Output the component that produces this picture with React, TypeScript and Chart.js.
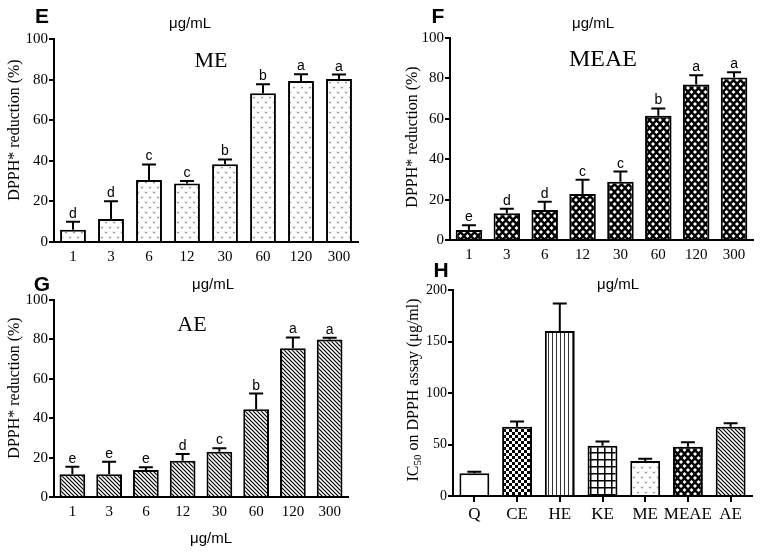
import React, { useEffect, useRef } from 'react';
import { Chart, registerables } from 'chart.js';
Chart.register(...registerables);

const SERIF = "'Liberation Serif', 'Times New Roman', serif";
const SANS = "'Liberation Sans', Arial, sans-serif";

// ---- data ----
const concLabels = ['1', '3', '6', '12', '30', '60', '120', '300'];

const meValues = [6, 11.3, 30.5, 28.8, 38.3, 73.3, 79.3, 80.3];
const meErrors = [4, 8.8, 7.7, 1.3, 2.4, 4.4, 3.3, 2.2];
const meLetters = ['d', 'd', 'c', 'c', 'b', 'b', 'a', 'a'];

const meaeValues = [5, 13.2, 14.9, 22.8, 28.8, 61.5, 77, 80.5];
const meaeErrors = [2.3, 2.3, 4, 7, 5.1, 3.6, 4.5, 2.5];
const meaeLetters = ['e', 'd', 'd', 'c', 'c', 'b', 'a', 'a'];

const aeValues = [11.6, 11.6, 13.7, 18.4, 23, 44.5, 75.5, 80];
const aeErrors = [3.8, 6.3, 1.4, 3.4, 1.7, 8, 5.5, 0.8];
const aeLetters = ['e', 'e', 'e', 'd', 'c', 'b', 'a', 'a'];

const ic50Labels = ['Q', 'CE', 'HE', 'KE', 'ME', 'MEAE', 'AE'];
const ic50Values = [22, 67.3, 160.2, 48.9, 34, 47.9, 67.3];
const ic50Errors = [1.6, 5, 26.8, 3.9, 2.2, 4.2, 3.3];
const ic50Fills = ['white', 'checker', 'vertical', 'grid', 'dots', 'cross', 'diag'];

// ---- patterns ----
function makePattern(kind: string): any {
  const c = document.createElement('canvas');
  const g = c.getContext('2d')!;
  const tile = (w: number, h: number) => { c.width = w; c.height = h; g.fillStyle = '#fff'; g.fillRect(0, 0, w, h); };
  if (kind === 'white') return '#ffffff';
  if (kind === 'dots') {
    tile(8, 10);
    g.strokeStyle = '#777'; g.lineWidth = 0.8;
    const v = (x: number, y: number) => { g.beginPath(); g.moveTo(x - 1.1, y - 0.8); g.lineTo(x, y + 0.8); g.lineTo(x + 1.1, y - 0.8); g.stroke(); };
    v(2, 2.5); v(6, 7.5);
  } else if (kind === 'cross') {
    tile(7, 8);
    g.fillStyle = '#000'; g.fillRect(0, 0, 7, 8);
    g.fillStyle = '#fff';
    const d = (x: number, y: number) => { g.beginPath(); g.moveTo(x, y - 2); g.lineTo(x + 2, y); g.lineTo(x, y + 2); g.lineTo(x - 2, y); g.closePath(); g.fill(); };
    d(3.5, 4); d(0, 0); d(7, 0); d(0, 8); d(7, 8);
  } else if (kind === 'diag') {
    tile(4, 4);
    g.strokeStyle = '#000'; g.lineWidth = 1.2;
    g.beginPath(); g.moveTo(-1, -1); g.lineTo(5, 5); g.moveTo(3, -1); g.lineTo(5, 1); g.moveTo(-1, 3); g.lineTo(1, 5); g.stroke();
  } else if (kind === 'checker') {
    tile(6, 6);
    g.fillStyle = '#000'; g.fillRect(0, 0, 3, 3); g.fillRect(3, 3, 3, 3);
  } else if (kind === 'vertical') {
    tile(4, 2);
    g.fillStyle = '#333'; g.fillRect(0, 0, 1, 2);
  } else if (kind === 'grid') {
    tile(7, 7);
    g.fillStyle = '#000'; g.fillRect(0, 0, 7, 1.5); g.fillRect(0, 0, 1.5, 7);
  }
  return g.createPattern(c, 'repeat');
}

// ---- error bar + letter plugin ----
const errorPlugin = {
  id: 'errBars',
  afterDatasetsDraw(chart: any, _args: any, opts: any) {
    const ctx = chart.ctx;
    const y = chart.scales.y;
    const meta = chart.getDatasetMeta(0);
    const values = chart.data.datasets[0].data as number[];
    const errors: number[] = opts.errors || [];
    const letters: string[] | undefined = opts.letters;
    ctx.save();
    ctx.strokeStyle = '#000';
    ctx.lineWidth = 2;
    meta.data.forEach((bar: any, i: number) => {
      const yv = y.getPixelForValue(values[i]);
      const ye = y.getPixelForValue(values[i] + errors[i]);
      ctx.beginPath();
      ctx.moveTo(bar.x, yv);
      ctx.lineTo(bar.x, ye);
      ctx.moveTo(bar.x - 7, ye);
      ctx.lineTo(bar.x + 7, ye);
      ctx.stroke();
      if (letters) {
        ctx.fillStyle = '#000';
        ctx.font = `14px ${SANS}`;
        ctx.textAlign = 'center';
        ctx.textBaseline = 'alphabetic';
        ctx.fillText(letters[i], bar.x, ye - 4);
      }
    });
    ctx.restore();
  },
};

type PanelProps = {
  left: number; top: number; w: number; h: number;
  area: { l: number; r: number; t: number; b: number };
  labels: string[]; values: number[]; errors: number[]; letters?: string[];
  fills: string[];
  yMax: number; yStep: number;
  xFont: number; yFont: number; xTicks: boolean; xPad: number; barPct: number;
};

function Panel(p: PanelProps) {
  const ref = useRef<HTMLCanvasElement>(null);
  useEffect(() => {
    const bg = p.fills.map(makePattern);
    const chart = new Chart(ref.current!, {
      type: 'bar',
      data: {
        labels: p.labels,
        datasets: [{
          data: p.values, backgroundColor: bg, borderColor: '#000', borderWidth: 2,
          barPercentage: p.barPct, categoryPercentage: 1, borderSkipped: 'bottom',
        } as any],
      },
      options: {
        responsive: false,
        animation: false,
        layout: { padding: { left: 0, top: p.area.t, right: p.w - p.area.r, bottom: 0 } },
        plugins: {
          legend: { display: false },
          tooltip: { enabled: false },
          errBars: { errors: p.errors, letters: p.letters },
        } as any,
        scales: {
          x: {
            grid: { display: p.xTicks, drawTicks: p.xTicks, drawOnChartArea: false, offset: false, tickLength: 6, color: '#000', lineWidth: 2 },
            border: { display: true, color: '#000', width: 2 },
            ticks: { color: '#000', font: { family: SERIF, size: p.xFont }, padding: p.xPad, maxRotation: 0, autoSkip: false },
            afterFit: (s: any) => { s.height = p.h - p.area.b; },
          },
          y: {
            min: 0, max: p.yMax,
            ticks: { stepSize: p.yStep, color: '#000', font: { family: SERIF, size: p.yFont }, padding: 1 },
            grid: { drawOnChartArea: false, tickLength: 5, color: '#000', lineWidth: 2 },
            border: { display: true, color: '#000', width: 2 },
            afterFit: (s: any) => { s.width = p.area.l; },
          },
        },
      } as any,
      plugins: [errorPlugin as any],
    });
    return () => chart.destroy();
  }, []);
  return (
    <canvas ref={ref} width={p.w} height={p.h}
      style={{ position: 'absolute', left: p.left, top: p.top, width: p.w, height: p.h }} />
  );
}

function Txt(props: { x: number; y: number; size: number; font: string; bold?: boolean; rotate?: boolean; children: any }) {
  return (
    <div style={{
      position: 'absolute', left: props.x, top: props.y,
      transform: `translate(-50%, -50%)${props.rotate ? ' rotate(-90deg)' : ''}`,
      fontFamily: props.font, fontSize: props.size, fontWeight: props.bold ? 'bold' : 'normal',
      lineHeight: 1, whiteSpace: 'nowrap', color: '#000',
    }}>{props.children}</div>
  );
}

export default function App() {
  const dpph = 'DPPH* reduction (%)';
  return (
    <div style={{ position: 'fixed', left: 0, top: 0, width: 760, height: 552, background: '#fff', overflow: 'hidden' }}>
      <Panel left={0} top={0} w={380} h={270} area={{ l: 54, r: 358, t: 39, b: 242 }}
        labels={concLabels} values={meValues} errors={meErrors} letters={meLetters}
        fills={concLabels.map(() => 'dots')} yMax={100} yStep={20}
        xFont={15} yFont={15} xTicks={false} xPad={6} barPct={0.68} />
      <Panel left={380} top={0} w={380} h={270} area={{ l: 70, r: 373, t: 38, b: 240 }}
        labels={concLabels} values={meaeValues} errors={meaeErrors} letters={meaeLetters}
        fills={concLabels.map(() => 'cross')} yMax={100} yStep={20}
        xFont={15} yFont={15} xTicks={false} xPad={6} barPct={0.7} />
      <Panel left={0} top={270} w={380} h={282} area={{ l: 54, r: 348, t: 30, b: 227 }}
        labels={concLabels} values={aeValues} errors={aeErrors} letters={aeLetters}
        fills={concLabels.map(() => 'diag')} yMax={100} yStep={20}
        xFont={15} yFont={15} xTicks={false} xPad={6} barPct={0.7} />
      <Panel left={380} top={270} w={380} h={282} area={{ l: 73, r: 372, t: 20, b: 226 }}
        labels={ic50Labels} values={ic50Values} errors={ic50Errors}
        fills={ic50Fills} yMax={200} yStep={50}
        xFont={17} yFont={14} xTicks={true} xPad={2} barPct={0.7} />

      <Txt x={42} y={15} size={21} font={SANS} bold>E</Txt>
      <Txt x={190} y={22} size={15} font={SANS}>μg/mL</Txt>
      <Txt x={211} y={60} size={22} font={SERIF}>ME</Txt>
      <Txt x={14} y={130} size={16} font={SERIF} rotate>{dpph}</Txt>

      <Txt x={438} y={15} size={21} font={SANS} bold>F</Txt>
      <Txt x={593} y={22} size={15} font={SANS}>μg/mL</Txt>
      <Txt x={603} y={58} size={24} font={SERIF}>MEAE</Txt>
      <Txt x={412} y={137} size={16} font={SERIF} rotate>{dpph}</Txt>

      <Txt x={42} y={283} size={21} font={SANS} bold>G</Txt>
      <Txt x={213} y={283} size={15} font={SANS}>μg/mL</Txt>
      <Txt x={192} y={324} size={22} font={SERIF}>AE</Txt>
      <Txt x={14} y={388} size={16} font={SERIF} rotate>{dpph}</Txt>
      <Txt x={211} y={537} size={15} font={SANS}>μg/mL</Txt>

      <Txt x={441} y={269} size={21} font={SANS} bold>H</Txt>
      <Txt x={618} y={283} size={15} font={SANS}>μg/mL</Txt>
      <Txt x={413} y={390} size={16} font={SERIF} rotate>
        <span>IC<sub style={{ fontSize: 11, verticalAlign: 'baseline', position: 'relative', top: 3 }}>50</sub> on DPPH assay (μg/ml)</span>
      </Txt>
    </div>
  );
}
